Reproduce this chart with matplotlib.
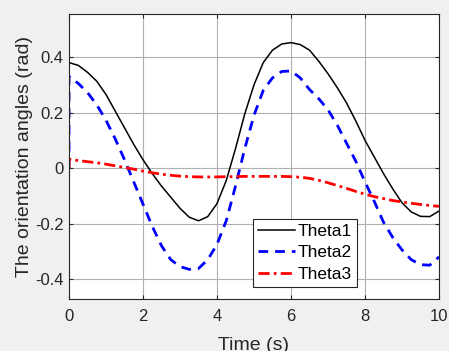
import matplotlib
matplotlib.use("Agg")
import matplotlib.pyplot as plt

# time axis (s), first point doubled for the jump at t=0
t = [0, 0, 0.25, 0.5, 0.75, 1.0, 1.25, 1.5, 1.75, 2.0, 2.25, 2.5, 2.75, 3.0, 3.25,
     3.5, 3.75, 4.0, 4.25, 4.5, 4.75, 5.0, 5.25, 5.5, 5.75, 6.0, 6.25, 6.5, 6.75,
     7.0, 7.25, 7.5, 7.75, 8.0, 8.25, 8.5, 8.75, 9.0, 9.25, 9.5, 9.75, 10.0]

theta1 = [0, 0.38, 0.37, 0.345, 0.313, 0.265, 0.205, 0.145, 0.085, 0.03, -0.02,
          -0.065, -0.105, -0.145, -0.177, -0.19, -0.175, -0.128, -0.045, 0.07,
          0.195, 0.30, 0.38, 0.425, 0.447, 0.452, 0.445, 0.425, 0.385, 0.34,
          0.29, 0.235, 0.17, 0.10, 0.04, -0.02, -0.075, -0.125, -0.158,
          -0.174, -0.175, -0.155]

theta2 = [0, 0.33, 0.305, 0.272, 0.228, 0.172, 0.105, 0.03, -0.05, -0.13, -0.21,
          -0.28, -0.33, -0.355, -0.365, -0.362, -0.33, -0.275, -0.19, -0.065,
          0.07, 0.19, 0.28, 0.325, 0.348, 0.35, 0.325, 0.283, 0.25, 0.21,
          0.155, 0.09, 0.025, -0.05, -0.12, -0.195, -0.25, -0.295, -0.33,
          -0.348, -0.35, -0.32]

theta3 = [0, 0.032, 0.027, 0.023, 0.019, 0.014, 0.008, 0.002, -0.004, -0.011, -0.017,
          -0.022, -0.026, -0.029, -0.031, -0.032, -0.032, -0.032, -0.031, -0.031,
          -0.030, -0.030, -0.030, -0.030, -0.030, -0.031, -0.033, -0.037, -0.044,
          -0.053, -0.063, -0.073, -0.084, -0.094, -0.103, -0.110, -0.117, -0.122,
          -0.127, -0.131, -0.135, -0.138]

xticks = [0, 2, 4, 6, 8, 10]
yticks = [-0.4, -0.2, 0, 0.2, 0.4]
ytick_labels = ["-0.4", "-0.2", "0", "0.2", "0.4"]

plt.rcParams['font.family'] = ['Liberation Sans', 'DejaVu Sans']

fig = plt.figure(figsize=(4.49, 3.51), dpi=100, facecolor='#f0f0f0')
ax = fig.add_axes([0.1537, 0.148, 0.824, 0.812])
ax.set_facecolor('white')

ax.plot(t, theta1, color='black', lw=1.1, label='Theta1')
ax.plot(t, theta2, color='blue', lw=2.0, ls=(0, (3.5, 2.5)), label='Theta2')
ax.plot(t, theta3, color='red', lw=2.0, ls=(0, (4, 1.5, 1, 1.5)), label='Theta3')

ax.set_xlim(0, 10)
ax.set_ylim(-0.472, 0.555)
ax.set_xticks(xticks)
ax.set_yticks(yticks)
ax.set_yticklabels(ytick_labels)
ax.grid(True, color='#b0b0b0', lw=0.8)
ax.tick_params(direction='in', length=3, colors='#262626', labelsize=12,
               top=True, right=True)
ax.tick_params(axis='x', pad=7.5)
ax.tick_params(axis='y', pad=4)
for s in ax.spines.values():
    s.set_color('#262626')
    s.set_linewidth(0.8)

ax.set_xlabel('Time (s)', fontsize=14, color='#262626', va='top')
ax.xaxis.set_label_coords(0.5, -0.132)
ax.set_ylabel('The orientation angles (rad)', fontsize=14, color='#262626')
ax.yaxis.set_label_coords(-0.097, 0.5)

leg = ax.legend(loc='lower left', bbox_to_anchor=(0.497, 0.042), fontsize=12.5,
                fancybox=False, edgecolor='#262626', framealpha=1,
                handlelength=2.1, handletextpad=0.2, borderpad=0.3,
                labelspacing=0.36, borderaxespad=0)
leg.get_frame().set_linewidth(0.8)

fig.savefig('out.png', dpi=100, facecolor=fig.get_facecolor())
